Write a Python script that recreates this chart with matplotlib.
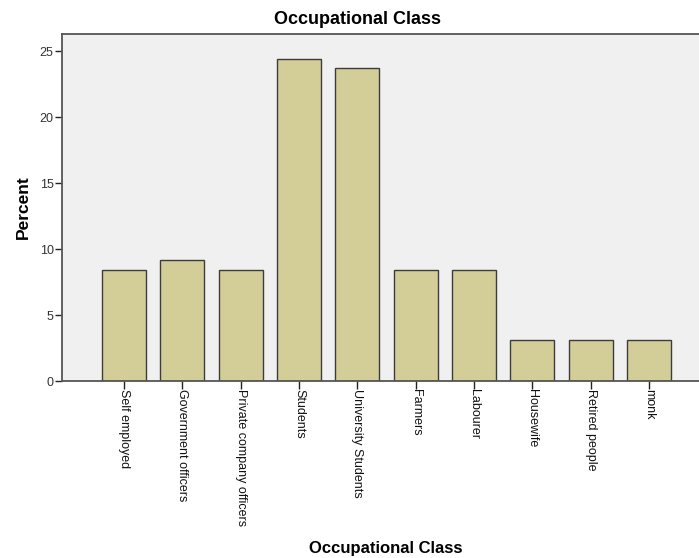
import matplotlib.pyplot as plt

plt.rcParams['font.family'] = ['Liberation Sans', 'DejaVu Sans']

categories = ['Self employed', 'Government officers', 'Private company officers',
              'Students', 'University Students', 'Farmers', 'Labourer',
              'Housewife', 'Retired people', 'monk']
percent = [8.4, 9.2, 8.4, 24.4, 23.7, 8.4, 8.4, 3.1, 3.1, 3.1]
yticks = [0, 5, 10, 15, 20, 25]

fig = plt.figure(figsize=(6.99, 5.58), dpi=100)
ax = fig.add_axes([62 / 699, 1 - 381 / 558, 1 - 62 / 699 + 0.002, (381 - 34) / 558])
ax.set_facecolor('#F0F0F0')

x = list(range(len(categories)))
ax.bar(x, percent, width=0.755, color='#D3CE97', edgecolor='#3C3C3C', linewidth=1.0, zorder=2)

ax.set_xlim(-1.063, 9.88)
ax.set_ylim(0, 26.3)
ax.set_yticks(yticks)
ax.set_xticks(x)
ax.set_xticklabels(categories, rotation=270, ha='center', va='top', fontsize=9)
ax.tick_params(axis='y', direction='out', length=5, width=1, color='#222222', labelsize=9, pad=1,
               labelcolor='#333333')
ax.tick_params(axis='x', direction='out', length=6, width=1, color='#222222', pad=0,
               labelcolor='#111111')

for side in ['left', 'bottom', 'top']:
    ax.spines[side].set_color('#555555')
    ax.spines[side].set_linewidth(1.3)
ax.spines['right'].set_visible(False)

ax.set_ylabel('Percent', fontsize=12.5, fontweight='bold', labelpad=6)
fig.text(357 / 699, 1 - 20 / 558, 'Occupational Class', ha='center', va='center',
         fontsize=13, fontweight='bold')
fig.text(386 / 699, 1 - 548 / 558, 'Occupational Class', ha='center', va='center',
         fontsize=12, fontweight='bold')

fig.savefig('out.png', dpi=100, facecolor='white')
